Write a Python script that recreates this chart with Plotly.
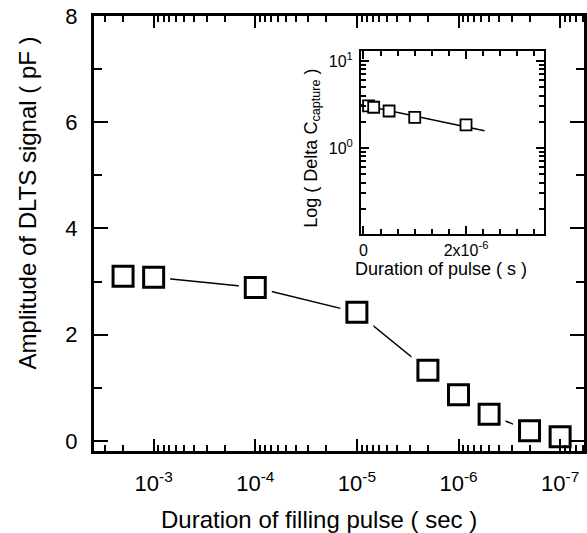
import plotly.graph_objects as go

# ---------------- data ----------------
pulse_main = [2e-3, 1e-3, 1e-4, 1e-5, 2e-6, 1e-6, 5e-7, 2e-7, 1e-7]
amp_main = [3.10, 3.08, 2.89, 2.42, 1.33, 0.87, 0.50, 0.19, 0.08]

main_tickvals = [1e-3, 1e-4, 1e-5, 1e-6, 1e-7]
main_ticktext = ["10<sup>-3</sup>", "10<sup>-4</sup>", "10<sup>-5</sup>",
                 "10<sup>-6</sup>", "10<sup>-7</sup>"]
amp_tickvals = [0, 2, 4, 6, 8]

pulse_inset = [1e-7, 2e-7, 5e-7, 1e-6, 2e-6]
dc_inset = [3.04, 2.94, 2.66, 2.25, 1.84]
fit_x = [-0.06e-6, 2.36e-6]
fit_y = [3.15, 1.58]

inset_xtickvals = [0, 2e-6]
inset_xticktext = ["0", "2x10<sup>-6</sup>"]
inset_ytickvals = [0.1, 1, 10]
inset_yticktext = ["10<sup>-1</sup>", "10<sup>0</sup>", "10<sup>1</sup>"]

# minor tick values for log axes
main_minor = [m * 10.0 ** e for e in range(-8, -1) for m in range(2, 10)]
inset_minor = [m * 10.0 ** e for e in range(-2, 2) for m in range(2, 10)]

FONT = "Liberation Sans, Arial, sans-serif"
W, H = 587, 533
L, R, T, B = 94, 0, 16, 82
PW, PH = W - L - R, H - T - B


def px(x):
    return (x - L) / PW


def py(y):
    return (H - B - y) / PH


fig = go.Figure()

# main series
fig.add_trace(go.Scatter(x=pulse_main, y=amp_main, mode="lines",
                         line=dict(color="black", width=1.5),
                         hoverinfo="skip", showlegend=False))
fig.add_trace(go.Scatter(x=pulse_main, y=amp_main, mode="markers",
                         marker=dict(symbol="square", size=33, color="white",
                                     line=dict(width=0)),
                         hoverinfo="skip", showlegend=False))
fig.add_trace(go.Scatter(x=pulse_main, y=amp_main, mode="markers",
                         marker=dict(symbol="square", size=20, color="white",
                                     line=dict(color="black", width=3)),
                         showlegend=False))

# inset
fig.add_trace(go.Scatter(x=fit_x, y=fit_y, mode="lines", xaxis="x2", yaxis="y2",
                         line=dict(color="black", width=1.5),
                         hoverinfo="skip", showlegend=False))
fig.add_trace(go.Scatter(x=pulse_inset, y=dc_inset, mode="markers",
                         xaxis="x2", yaxis="y2",
                         marker=dict(symbol="square", size=11, color="white",
                                     line=dict(color="black", width=1.8)),
                         showlegend=False))

axis_common = dict(showgrid=False, zeroline=False, showline=True,
                   linecolor="black", ticks="inside", tickcolor="black",
                   mirror="ticks")

fig.update_layout(
    width=W, height=H,
    margin=dict(l=L, r=R, t=T, b=B, pad=0),
    paper_bgcolor="white", plot_bgcolor="white",
    font=dict(family=FONT, color="black"),
    showlegend=False,
    xaxis=dict(**axis_common, type="log", range=[-2.413, -7.235],
               linewidth=3, tickwidth=2, ticklen=12,
               tickmode="array", tickvals=main_tickvals, ticktext=main_ticktext,
               tickfont=dict(size=22), ticklabelstandoff=11,
               minor=dict(tickmode="array", tickvals=main_minor, ticks="inside",
                          ticklen=6, tickwidth=1.5, tickcolor="black",
                          showgrid=False)),
    yaxis=dict(**axis_common, range=[-0.19, 8.0],
               linewidth=3, tickwidth=2, ticklen=14,
               tickmode="array", tickvals=amp_tickvals,
               tickfont=dict(size=22), ticklabelstandoff=9,
               minor=dict(dtick=1, ticks="inside", ticklen=8, tickwidth=2,
                          tickcolor="black", showgrid=False)),
    xaxis2=dict(**axis_common, anchor="y2", domain=[0.545, 0.9189],
                range=[-0.0465e-6, 3.525e-6], linewidth=2, tickwidth=1.5,
                ticklen=8, tickmode="array", tickvals=inset_xtickvals,
                ticktext=inset_xticktext, tickfont=dict(size=16),
                ticklabelstandoff=1,
                minor=dict(dtick=2e-6 / 6, tick0=0, ticks="inside", ticklen=5,
                           tickwidth=1.5, tickcolor="black", showgrid=False)),
    yaxis2=dict(**axis_common, anchor="x2", domain=[0.4989, 0.9195],
                type="log", range=[-0.99, 1.115], linewidth=2, tickwidth=1.5,
                ticklen=8, tickmode="array", tickvals=inset_ytickvals,
                ticktext=inset_yticktext, tickfont=dict(size=16),
                ticklabelstandoff=3,
                minor=dict(tickmode="array", tickvals=inset_minor,
                           ticks="inside", ticklen=5, tickwidth=1.5,
                           tickcolor="black", showgrid=False)),
    annotations=[
        dict(text="Duration of filling pulse ( sec )", xref="paper", yref="paper",
             x=px(320), y=py(519), xanchor="center", yanchor="middle",
             showarrow=False, font=dict(size=24)),
        dict(text="Amplitude of DLTS signal ( pF )", xref="paper", yref="paper",
             x=px(27), y=py(203), xanchor="center", yanchor="middle",
             textangle=-90, showarrow=False, font=dict(size=24)),
        dict(text="Duration of pulse ( s )", xref="paper", yref="paper",
             x=px(443), y=py(269), xanchor="center", yanchor="middle",
             showarrow=False, font=dict(size=18)),
        dict(text="Log ( Delta C<sub>capture</sub> )", xref="paper", yref="paper",
             x=px(313), y=py(148), xanchor="center", yanchor="middle",
             textangle=-90, showarrow=False, font=dict(size=18)),
    ],
)

fig.write_html(
    "out.html",
    config={"displayModeBar": False},
    post_script="document.body.style.margin='0';document.body.style.padding='0';"
                "document.documentElement.style.overflow='hidden';",
)
